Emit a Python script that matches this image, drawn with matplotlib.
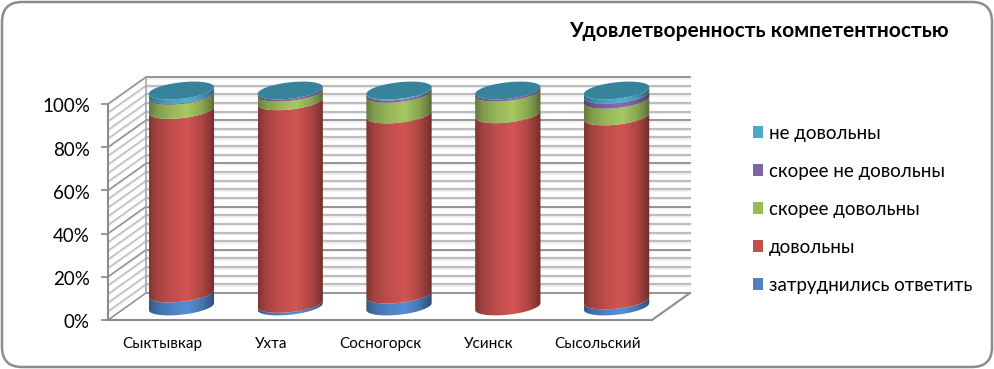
import numpy as np
import matplotlib
matplotlib.use('Agg')
import matplotlib.pyplot as plt
from matplotlib.patches import Polygon, FancyBboxPatch, Patch
from matplotlib.colors import to_rgb
from matplotlib.transforms import ScaledTranslation

plt.rcParams['font.family'] = ['Lato', 'Open Sans', 'DejaVu Sans']

# Data
cities = ['Сыктывкар', 'Ухта', 'Сосногорск', 'Усинск', 'Сысольский']
hard_to_say = [6.0, 1.2, 5.5, 0.0, 2.8]
satisfied = [85.0, 93.8, 83.4, 89.0, 85.2]
rather_satisfied = [6.5, 4.0, 9.6, 10.0, 7.7]
rather_not = [0.5, 1.0, 1.0, 1.0, 2.3]
not_satisfied = [2.0, 0.0, 0.5, 0.0, 2.0]
series = [hard_to_say, satisfied, rather_satisfied, rather_not, not_satisfied]
series_names = ['затруднились ответить', 'довольны', 'скорее довольны',
                'скорее не довольны', 'не довольны']
series_colors = ['#4F81BD', '#C0504D', '#9BBB59', '#8064A2', '#4BACC6']
shade_colors = ['#558ED5', '#D25552', '#A6C862', '#8A6BB0', '#4BB4D0']
y_ticks = [0, 20, 40, 60, 80, 100]

W, H = 994, 369
fig = plt.figure(figsize=(W / 100, H / 100), dpi=100, facecolor='white')
fig.add_artist(FancyBboxPatch((2 / W, 2 / H), 990 / W, 365 / H, transform=fig.transFigure,
                              boxstyle=f'round,pad=0,rounding_size={20 / W}', mutation_aspect=W / H,
                              fc='white', ec='#8c8c8c', lw=1.8, zorder=-1))

# front plane of the 3d box
ax = fig.add_axes([108 / W, 1 - 320 / H, 544 / W, 216 / H])
ax.patch.set_alpha(0)
ax.set_xlim(-0.5, 4.5)
ax.set_ylim(0, 100)

depth_x = 38 / 108.8   # box depth in x units
depth_y = 27 / 2.16    # box depth in y units

# back wall and side wall grid
for v in range(0, 101, 4):
    major = v % 20 == 0
    c = '#8c8c8c' if major else '#bdbdbd'
    lw = 1.3 if major else 1.6
    if v > 0:
        ax.plot([-0.5 + depth_x, 4.5 + depth_x], [v + depth_y - 0.7] * 2, color='#efefef', lw=1.2, clip_on=False, zorder=1)
        ax.plot([-0.5, -0.5 + depth_x], [v - 0.7, v + depth_y - 0.7], color='#efefef', lw=1.0, clip_on=False, zorder=1)
    ax.plot([-0.5 + depth_x, 4.5 + depth_x], [v + depth_y] * 2, color=c, lw=lw, clip_on=False, zorder=1.2)
    ax.plot([-0.5, -0.5 + depth_x], [v, v + depth_y], color=c, lw=1.1, clip_on=False, zorder=1.2)
ax.plot([-0.5 + depth_x] * 2, [depth_y, 100 + depth_y], color='#a6a6a6', lw=1.2, clip_on=False, zorder=1.2)
ax.plot([4.5, 4.5 + depth_x], [0, depth_y], color='#8c8c8c', lw=1.5, clip_on=False, zorder=1.2)


def rim(xc, level, t):
    # points of the cylinder's tilted ellipse at a height
    rx, rd = 0.277, 0.33
    return (xc + rx * np.cos(t) + depth_x * rd * np.sin(t),
            level + depth_y * rd * np.sin(t))


shade_pos = [0, 0.12, 0.35, 0.58, 0.8, 0.93, 1]
shade_val = [0.62, 0.78, 0.92, 1.0, 0.84, 0.66, 0.52]
shade = np.interp(np.linspace(0, 1, 80), shade_pos, shade_val)
t_ext = np.arctan2(depth_x * 0.33, 0.277)
t_front = np.linspace(-np.pi + t_ext, t_ext, 50)[::-1]  # right extreme round the front to the left
t_all = np.linspace(0, 2 * np.pi, 120)
half_w = np.hypot(0.277, depth_x * 0.33)

for i in range(len(cities)):
    xc = i + depth_x / 2
    base = 0.0
    for vals, col in zip(series, shade_colors):
        v = vals[i]
        if v <= 0:
            continue
        lo = base + depth_y / 2
        hi = base + v + depth_y / 2
        x0, y0 = rim(xc, lo, t_front)
        x1, y1 = rim(xc, hi, t_front[::-1])
        poly = Polygon(np.column_stack([np.r_[x0, x1], np.r_[y0, y1]]), transform=ax.transData,
                       fc='none', ec='none')
        ax.add_patch(poly)
        poly.set_clip_on(False)
        rgb = np.clip(np.outer(shade, to_rgb(col)), 0, 1)[None, :, :]
        im = ax.imshow(rgb, extent=[xc - half_w, xc + half_w, lo - 10, hi + 10], aspect='auto',
                       interpolation='bilinear', zorder=3)
        im.set_clip_path(poly)
        im.set_clip_box(fig.bbox)
        base += v
    tx, ty = rim(xc, 100 + depth_y / 2, t_all)
    ax.fill(tx, ty, color='#37839B', lw=0, clip_on=False, zorder=4)

ax.set_xlim(-0.5, 4.5)
ax.set_ylim(0, 100)

# axes
for s in ['top', 'right']:
    ax.spines[s].set_visible(False)
for s in ['left', 'bottom']:
    ax.spines[s].set_color('#8c8c8c')
    ax.spines[s].set_linewidth(1.5)
ax.set_yticks(y_ticks)
ax.set_yticklabels([f'{v}%' for v in y_ticks], fontsize=13.5, color='black')
ax.tick_params(axis='y', length=5, width=1.3, color='#8c8c8c', pad=8)
for lab in ax.get_yticklabels():
    lab.set_transform(lab.get_transform() + ScaledTranslation(0, -1.3 / 100, fig.dpi_scale_trans))
ax.set_xticks(range(len(cities)))
ax.set_xticklabels(cities, fontsize=11, color='black')
ax.tick_params(axis='x', length=0, pad=12)

fig.text(758.5 / W, 1 - 31 / H, 'Удовлетворенность компетентностью', fontsize=15,
         fontweight='bold', ha='center', va='center', color='black')

handles = [Patch(fc=c, ec='none', label=n) for c, n in zip(series_colors, series_names)][::-1]
fig.legend(handles=handles, loc='center left', bbox_to_anchor=(753 / W, 1 - 209 / H), frameon=False,
           fontsize=13.5, handlelength=0.55, handleheight=0.55, handletextpad=0.3,
           labelspacing=1.12, borderpad=0, borderaxespad=0)

fig.savefig('out.png', dpi=100)
